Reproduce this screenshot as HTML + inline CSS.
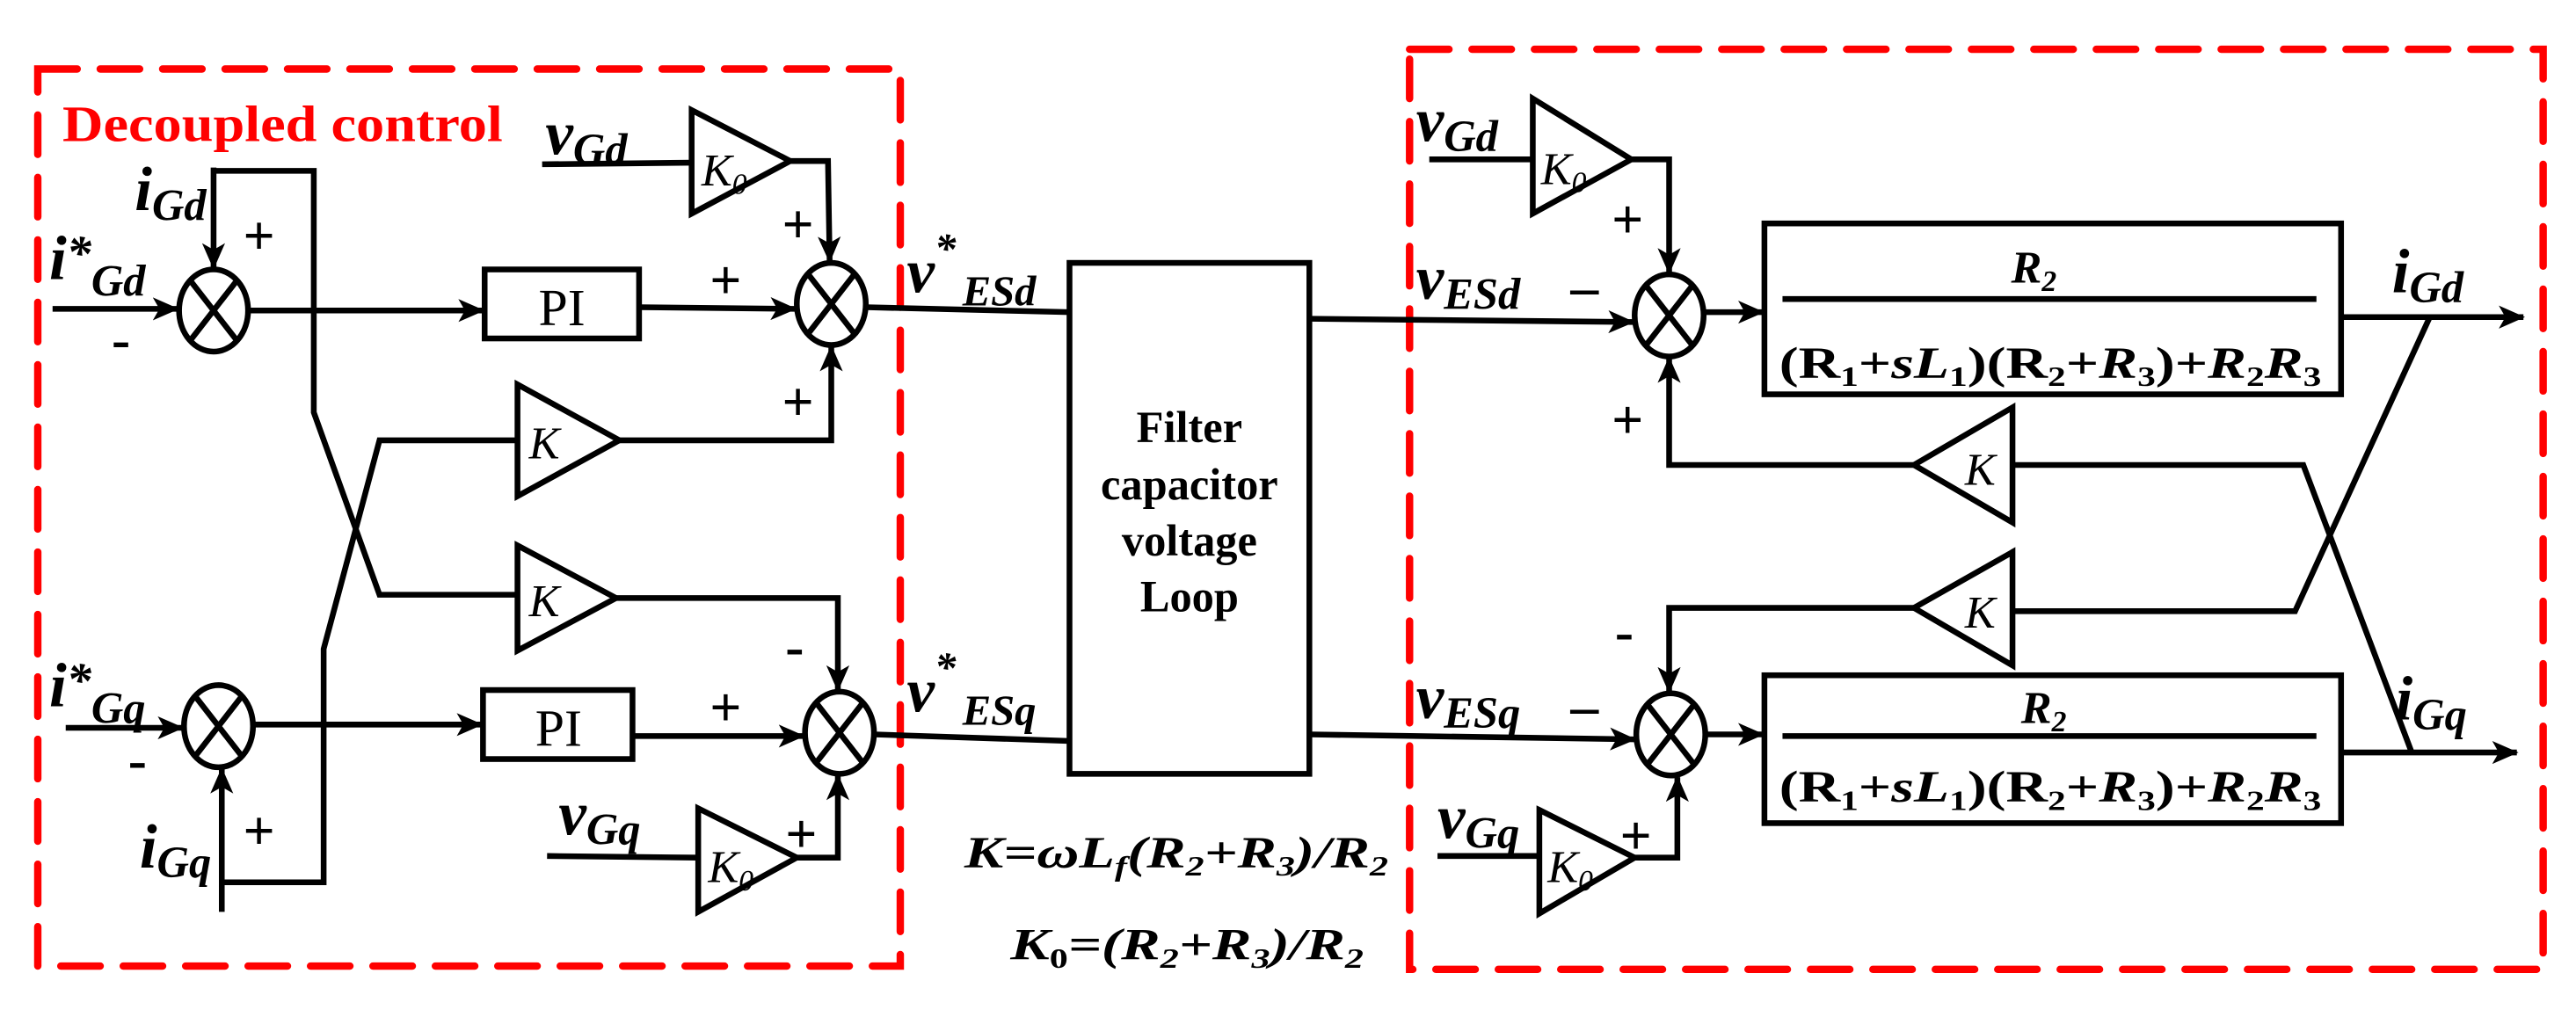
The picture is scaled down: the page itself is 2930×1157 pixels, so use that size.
<!DOCTYPE html>
<html><head><meta charset="utf-8"><style>
html,body{margin:0;padding:0;background:#fff;}
svg{display:block;}
text{font-family:"Liberation Serif",serif;fill:#000;}
.l{font-style:italic;font-weight:bold;}
</style></head><body>
<svg width="2930" height="1157" viewBox="0 0 1568 619" preserveAspectRatio="none" xmlns="http://www.w3.org/2000/svg">
<defs>
<marker id="a" markerWidth="16" markerHeight="14" refX="15" refY="7" orient="auto" markerUnits="userSpaceOnUse"><path d="M0,0 L16,7 L0,14 L4,7 Z" fill="#000"/></marker>
</defs>
<g fill="none" stroke="#f00" stroke-width="4.5" stroke-dasharray="24,14" stroke-linecap="round">
<rect x="23" y="42" width="525" height="546"/>
<rect x="858" y="30" width="690" height="560"/>
</g>
<text x="38" y="86" font-size="31" font-weight="bold" style="fill:#f00" textLength="268" lengthAdjust="spacingAndGlyphs">Decoupled control</text>

<g fill="none" stroke="#000" stroke-width="3.5">
<ellipse cx="130" cy="189" rx="21" ry="25"/>
<path d="M116,171 L144,207 M144,171 L116,207"/>
<ellipse cx="133" cy="442" rx="21" ry="25"/>
<path d="M119,424 L147,460 M147,424 L119,460"/>
<ellipse cx="506" cy="185" rx="21" ry="25"/>
<path d="M492,167 L520,203 M520,167 L492,203"/>
<ellipse cx="511" cy="446" rx="21" ry="25"/>
<path d="M497,428 L525,464 M525,428 L497,464"/>
<ellipse cx="1016" cy="192" rx="21" ry="25"/>
<path d="M1002,174 L1030,210 M1030,174 L1002,210"/>
<ellipse cx="1017" cy="447" rx="21" ry="25"/>
<path d="M1003,429 L1031,465 M1031,429 L1003,465"/>
<rect x="295" y="164" width="94" height="42"/>
<rect x="294" y="420" width="91" height="42"/>
<rect x="651" y="160" width="146" height="311"/>
<rect x="1074" y="136" width="351" height="104"/>
<rect x="1074" y="411" width="351" height="90"/>
<path d="M1085,182 L1410,182 M1085,448 L1410,448"/>
<path d="M421,67 L481,98 L421,130 Z"/>
<path d="M315,234 L377,268 L315,302 Z"/>
<path d="M315,332 L375,364 L315,396 Z"/>
<path d="M425,492 L485,522 L425,555 Z"/>
<path d="M933,60 L993,97 L933,130 Z"/>
<path d="M1225,248 L1165,283 L1225,318 Z"/>
<path d="M1225,336 L1165,370 L1225,405 Z"/>
<path d="M937,493 L995,522 L937,556 Z"/>
</g>

<g fill="none" stroke="#000" stroke-width="3.5">
<path d="M32,188 L108,188" marker-end="url(#a)"/>
<path d="M130,102 L130,163" marker-end="url(#a)"/>
<path d="M130,104 L191,104 L191,251 L231,362 L315,362"/>
<path d="M152,189 L294,189" marker-end="url(#a)"/>
<path d="M389,187 L484,188" marker-end="url(#a)"/>
<path d="M330,100 L421,99"/>
<path d="M481,98 L504,98 L505,159" marker-end="url(#a)"/>
<path d="M377,268 L506,268 L506,211" marker-end="url(#a)"/>
<path d="M527,187 L651,190"/>
<path d="M40,443 L111,443" marker-end="url(#a)"/>
<path d="M135,555 L135,468" marker-end="url(#a)"/>
<path d="M135,537 L197,537 L197,395 L231,268 L315,268"/>
<path d="M154,441 L293,441" marker-end="url(#a)"/>
<path d="M385,448 L489,448" marker-end="url(#a)"/>
<path d="M375,364 L510,364 L510,420" marker-end="url(#a)"/>
<path d="M333,521 L425,522"/>
<path d="M485,522 L510,522 L510,472" marker-end="url(#a)"/>
<path d="M532,447 L651,451"/>
<path d="M797,194 L994,196" marker-end="url(#a)"/>
<path d="M870,97 L933,97"/>
<path d="M993,97 L1016,97 L1016,166" marker-end="url(#a)"/>
<path d="M1037,190 L1073,190" marker-end="url(#a)"/>
<path d="M1165,283 L1016,283 L1016,218" marker-end="url(#a)"/>
<path d="M1425,193 L1536,193" marker-end="url(#a)"/>
<path d="M1225,283 L1402,283 L1468,458"/>
<path d="M797,447 L995,450" marker-end="url(#a)"/>
<path d="M1165,370 L1016,370 L1016,421" marker-end="url(#a)"/>
<path d="M1225,372 L1397,372 L1479,193"/>
<path d="M1038,447 L1073,447" marker-end="url(#a)"/>
<path d="M1425,458 L1532,458" marker-end="url(#a)"/>
<path d="M875,521 L937,521"/>
<path d="M995,522 L1021,522 L1021,473" marker-end="url(#a)"/>
</g>

<g font-family="Liberation Sans" font-weight="bold" font-size="34">
<text x="148" y="155">+</text><text x="68" y="218">-</text>
<text x="476" y="148">+</text><text x="432" y="182">+</text><text x="476" y="256">+</text>
<text x="478" y="405">-</text><text x="432" y="442">+</text><text x="478" y="519">+</text>
<text x="78" y="474">-</text><text x="148" y="517">+</text>
<text x="981" y="145">+</text><text x="981" y="267">+</text><text x="983" y="396">-</text>
<text x="956" y="186">–</text><text x="956" y="441">–</text><text x="986" y="520">+</text>
</g>

<text class="l" x="30" y="170" font-size="38">i<tspan font-size="30" dy="-6">*</tspan><tspan font-size="27" dy="16">Gd</tspan></text>
<text class="l" x="82" y="128" font-size="38">i<tspan font-size="27" dy="6">Gd</tspan></text>
<text class="l" x="332" y="94" font-size="38">v<tspan font-size="27" dy="6">Gd</tspan></text>
<text class="l" x="30" y="430" font-size="38">i<tspan font-size="30" dy="-6">*</tspan><tspan font-size="27" dy="16">Gq</tspan></text>
<text class="l" x="85" y="528" font-size="38">i<tspan font-size="27" dy="6">Gq</tspan></text>
<text class="l" x="340" y="508" font-size="38">v<tspan font-size="27" dy="6">Gq</tspan></text>
<text class="l" x="552" y="178" font-size="38">v<tspan font-size="26" dy="-18">*</tspan><tspan font-size="26" dx="4" dy="26">ESd</tspan></text>
<text class="l" x="552" y="433" font-size="38">v<tspan font-size="26" dy="-18">*</tspan><tspan font-size="26" dx="4" dy="26">ESq</tspan></text>
<text class="l" x="862" y="182" font-size="38">v<tspan font-size="27" dy="6">ESd</tspan></text>
<text class="l" x="862" y="437" font-size="38">v<tspan font-size="27" dy="6">ESq</tspan></text>
<text class="l" x="862" y="86" font-size="38">v<tspan font-size="27" dy="6">Gd</tspan></text>
<text class="l" x="875" y="510" font-size="38">v<tspan font-size="27" dy="6">Gq</tspan></text>
<text class="l" x="1456" y="178" font-size="38">i<tspan font-size="27" dy="6">Gd</tspan></text>
<text class="l" x="1458" y="438" font-size="38">i<tspan font-size="27" dy="6">Gq</tspan></text>

<text x="342" y="198" font-size="32" text-anchor="middle">PI</text>
<text x="340" y="454" font-size="32" text-anchor="middle">PI</text>
<text x="427" y="113" font-size="28" font-style="italic">K<tspan font-size="18" dy="5">0</tspan></text>
<text x="431" y="537" font-size="28" font-style="italic">K<tspan font-size="18" dy="5">0</tspan></text>
<text x="938" y="112" font-size="28" font-style="italic">K<tspan font-size="18" dy="5">0</tspan></text>
<text x="942" y="537" font-size="28" font-style="italic">K<tspan font-size="18" dy="5">0</tspan></text>
<text x="322" y="279" font-size="28" font-style="italic">K</text>
<text x="322" y="375" font-size="28" font-style="italic">K</text>
<text x="1196" y="295" font-size="28" font-style="italic">K</text>
<text x="1196" y="382" font-size="28" font-style="italic">K</text>

<g font-weight="bold" font-size="27" text-anchor="middle">
<text x="724" y="269">Filter</text>
<text x="724" y="304">capacitor</text>
<text x="724" y="338">voltage</text>
<text x="724" y="372">Loop</text>
</g>

<text class="l" x="1238" y="172" font-size="28" text-anchor="middle">R<tspan font-size="18" dy="5">2</tspan></text>
<text x="1248" y="230" font-size="27" font-weight="bold" text-anchor="middle" textLength="330" lengthAdjust="spacingAndGlyphs">(R<tspan font-size="17" dy="5">1</tspan><tspan dy="-5">+</tspan><tspan font-style="italic">sL</tspan><tspan font-size="17" dy="5">1</tspan><tspan dy="-5">)(R</tspan><tspan font-size="17" dy="5">2</tspan><tspan dy="-5">+</tspan><tspan font-style="italic">R</tspan><tspan font-size="17" dy="5">3</tspan><tspan dy="-5">)+</tspan><tspan font-style="italic">R</tspan><tspan font-size="17" dy="5">2</tspan><tspan font-style="italic" dy="-5">R</tspan><tspan font-size="17" dy="5">3</tspan></text>
<text class="l" x="1244" y="440" font-size="28" text-anchor="middle">R<tspan font-size="18" dy="5">2</tspan></text>
<text x="1248" y="488" font-size="27" font-weight="bold" text-anchor="middle" textLength="330" lengthAdjust="spacingAndGlyphs">(R<tspan font-size="17" dy="5">1</tspan><tspan dy="-5">+</tspan><tspan font-style="italic">sL</tspan><tspan font-size="17" dy="5">1</tspan><tspan dy="-5">)(R</tspan><tspan font-size="17" dy="5">2</tspan><tspan dy="-5">+</tspan><tspan font-style="italic">R</tspan><tspan font-size="17" dy="5">3</tspan><tspan dy="-5">)+</tspan><tspan font-style="italic">R</tspan><tspan font-size="17" dy="5">2</tspan><tspan font-style="italic" dy="-5">R</tspan><tspan font-size="17" dy="5">3</tspan></text>

<text class="l" x="587" y="528" font-size="27" textLength="258" lengthAdjust="spacingAndGlyphs">K=ωL<tspan font-size="17" dy="5">f</tspan><tspan dy="-5">(R</tspan><tspan font-size="17" dy="5">2</tspan><tspan dy="-5">+R</tspan><tspan font-size="17" dy="5">3</tspan><tspan dy="-5">)/R</tspan><tspan font-size="17" dy="5">2</tspan></text>
<text class="l" x="615" y="584" font-size="27" textLength="215" lengthAdjust="spacingAndGlyphs">K<tspan font-size="17" dy="5" font-style="normal">0</tspan><tspan dy="-5">=(R</tspan><tspan font-size="17" dy="5">2</tspan><tspan dy="-5">+R</tspan><tspan font-size="17" dy="5">3</tspan><tspan dy="-5">)/R</tspan><tspan font-size="17" dy="5">2</tspan></text>
</svg>
</body></html>
